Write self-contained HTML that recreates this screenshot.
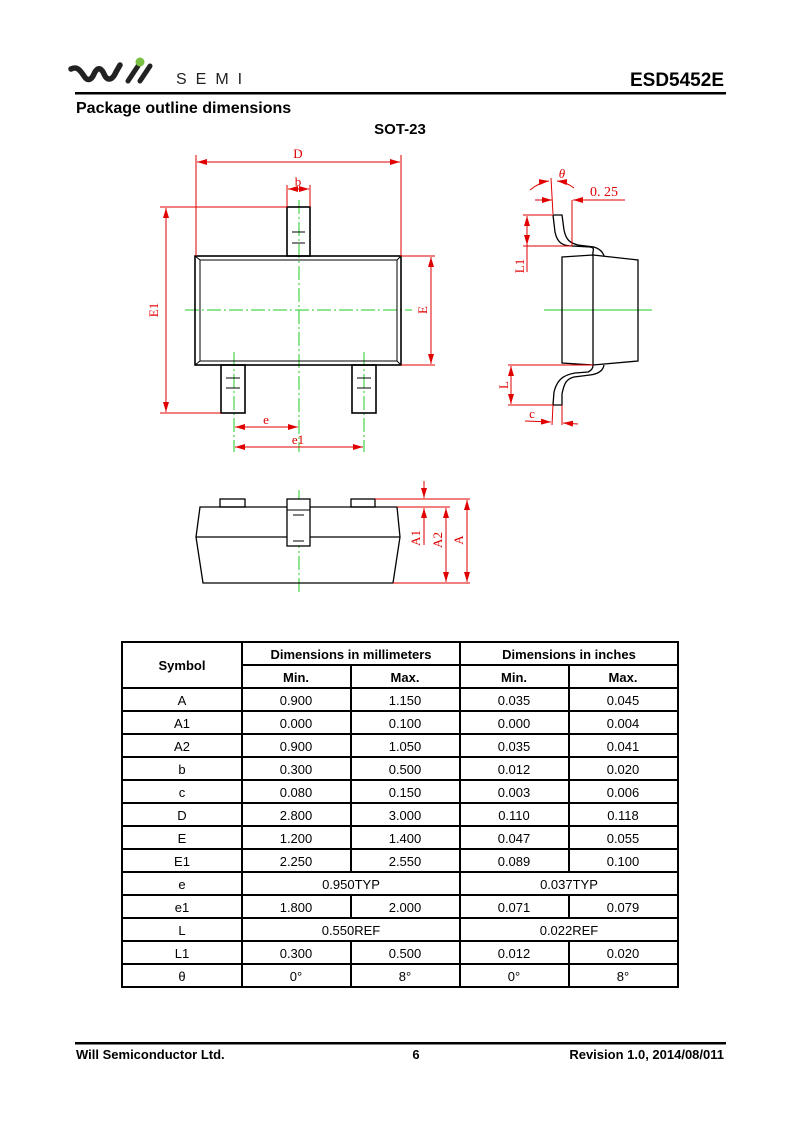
<!DOCTYPE html>
<html><head><meta charset="utf-8"><style>
html,body{margin:0;padding:0;background:#fff;}
svg{display:block;}
text{font-family:"Liberation Sans",Arial,sans-serif;}
.t{font-size:13px;fill:#000;text-anchor:middle;}
.b{font-weight:bold;}
.r{fill:#e00000;font-family:"Liberation Serif",serif;font-size:13px;text-anchor:middle;}
.rl{stroke:#e00000;stroke-width:1;fill:none;}
.k{stroke:#000;stroke-width:1.6;fill:none;}
.g{stroke:#22cc22;stroke-width:1;fill:none;stroke-dasharray:14 3 2 3;}
</style></head><body>
<svg width="800" height="1131" viewBox="0 0 800 1131" xmlns="http://www.w3.org/2000/svg">
<defs>
<marker id="a" viewBox="0 0 10 6" refX="10" refY="3" markerWidth="10" markerHeight="6" orient="auto-start-reverse" markerUnits="userSpaceOnUse"><path d="M0,0 L10,3 L0,6 z" fill="#e00000"/></marker>
</defs>
<!-- header -->
<path d="M71,69 C77,66 80,70 84,76 C87,81 91,81 94,74 C97,67 101,67 104,74 C107,81 112,81 116,72 L120,65" stroke="#222" stroke-width="5.5" fill="none" stroke-linecap="round"/>
<path d="M128,81 L138,66 M140,81 L150,66" stroke="#222" stroke-width="5" fill="none" stroke-linecap="round"/>
<circle cx="140" cy="62" r="4.5" fill="#7ac143"/>
<text x="176" y="84" style="font-size:16px;letter-spacing:9px;fill:#222">SEMI</text>
<text x="724" y="86" class="b" style="font-size:19px;text-anchor:end">ESD5452E</text>
<rect x="75" y="92" width="651" height="2.5" fill="#000"/>
<text x="76" y="113" class="b" style="font-size:16px">Package outline dimensions</text>
<text x="400" y="134" class="b" style="font-size:15px;text-anchor:middle">SOT-23</text>

<!-- top view -->
<line class="g" x1="185" y1="310" x2="412" y2="310"/>
<line class="g" x1="299" y1="200" x2="299" y2="452"/>
<line class="g" x1="234" y1="352" x2="234" y2="452"/>
<line class="g" x1="364" y1="352" x2="364" y2="452"/>
<rect class="k" x="287" y="207" width="23" height="49"/>
<rect class="k" x="195" y="256" width="206" height="109"/>
<rect x="200" y="260" width="197" height="101" fill="none" stroke="#000" stroke-width="1"/>
<path d="M195,256 L200,260 M401,256 L397,260 M195,365 L200,361 M401,365 L397,361" stroke="#000" stroke-width="1"/>
<rect class="k" x="221" y="365" width="24" height="48"/>
<rect class="k" x="352" y="365" width="24" height="48"/>
<path d="M292,232 h13 M292,243 h13 M226,378 h14 M226,388 h14 M357,378 h14 M357,388 h14" stroke="#000" stroke-width="1"/>
<line class="rl" x1="196" y1="155" x2="196" y2="256"/>
<line class="rl" x1="401" y1="155" x2="401" y2="256"/>
<line class="rl" x1="197" y1="162" x2="400" y2="162" marker-start="url(#a)" marker-end="url(#a)"/>
<text class="r" x="298" y="158">D</text>
<line class="rl" x1="287" y1="185" x2="287" y2="207"/>
<line class="rl" x1="310" y1="185" x2="310" y2="207"/>
<line class="rl" x1="288" y1="189" x2="309" y2="189" marker-start="url(#a)" marker-end="url(#a)"/>
<text class="r" x="298" y="186">b</text>
<line class="rl" x1="160" y1="207" x2="287" y2="207"/>
<line class="rl" x1="160" y1="413" x2="221" y2="413"/>
<line class="rl" x1="166" y1="208" x2="166" y2="412" marker-start="url(#a)" marker-end="url(#a)"/>
<text class="r" transform="translate(158,310) rotate(-90)">E1</text>
<line class="rl" x1="401" y1="256" x2="435" y2="256"/>
<line class="rl" x1="401" y1="365" x2="435" y2="365"/>
<line class="rl" x1="431" y1="257" x2="431" y2="364" marker-start="url(#a)" marker-end="url(#a)"/>
<text class="r" transform="translate(427,310) rotate(-90)">E</text>
<line class="rl" x1="235" y1="427" x2="298" y2="427" marker-start="url(#a)" marker-end="url(#a)"/>
<text class="r" x="266" y="424">e</text>
<line class="rl" x1="235" y1="447" x2="363" y2="447" marker-start="url(#a)" marker-end="url(#a)"/>
<text class="r" x="298" y="444">e1</text>

<!-- side view -->
<line x1="544" y1="310" x2="652" y2="310" stroke="#22cc22" stroke-width="1"/>
<path class="k" style="stroke-width:1.3" d="M562,257 L593,255 L638,260 L638,361 L593,365 L562,363 Z M593,255 L593,365"/>
<path class="k" style="stroke-width:1.3" d="M553,215 L562,215 L564,230 C566,240 570,243 578,245 L594,247 C600,249 603,252 604,256 M553,215 L555,232 C557,242 562,246 572,246 L590,247 C596,248 592,251 593,255"/>
<path class="k" style="stroke-width:1.3" d="M604,365 C603,371 598,374 590,375 L574,377 C566,379 564,384 562,394 L562,405 L553,405 L554,392 C557,380 563,375 575,373 L588,372 C592,370 593,368 593,365"/>
<line class="rl" x1="523" y1="215" x2="553" y2="215"/>
<line class="rl" x1="523" y1="246" x2="572" y2="246"/>
<line class="rl" x1="527" y1="216" x2="527" y2="245" marker-start="url(#a)" marker-end="url(#a)"/>
<line class="rl" x1="527" y1="245" x2="527" y2="272"/>
<text class="r" transform="translate(524,266) rotate(-90)">L1</text>
<line class="rl" x1="535" y1="200" x2="552" y2="200" marker-end="url(#a)"/>
<line class="rl" x1="625" y1="200" x2="573" y2="200" marker-end="url(#a)"/>
<line class="rl" x1="572" y1="200" x2="572" y2="246"/>
<text class="r" x="604" y="196" style="font-size:14px">0. 25</text>
<line class="rl" x1="551" y1="178" x2="553" y2="214"/>
<path class="rl" d="M530,190 Q540,182 549,181" marker-end="url(#a)"/>
<path class="rl" d="M574,188 Q566,182 557,181" marker-end="url(#a)"/>
<text class="r" x="562" y="178" style="font-style:italic">θ</text>
<line class="rl" x1="508" y1="365" x2="593" y2="365"/>
<line class="rl" x1="508" y1="405" x2="553" y2="405"/>
<line class="rl" x1="511" y1="366" x2="511" y2="404" marker-start="url(#a)" marker-end="url(#a)"/>
<text class="r" transform="translate(508,385) rotate(-90)">L</text>
<line class="rl" x1="553" y1="405" x2="552" y2="425"/>
<line class="rl" x1="562" y1="405" x2="562" y2="425"/>
<line class="rl" x1="525" y1="421" x2="551" y2="422" marker-end="url(#a)"/>
<line class="rl" x1="578" y1="424" x2="563" y2="423" marker-end="url(#a)"/>
<text class="r" x="532" y="418">c</text>

<!-- bottom view -->
<line class="g" x1="299" y1="490" x2="299" y2="592"/>
<rect class="k" style="stroke-width:1.3" x="220" y="499" width="25" height="8"/>
<rect class="k" style="stroke-width:1.3" x="351" y="499" width="24" height="8"/>
<path class="k" style="stroke-width:1.3" d="M200,507 L397,507 L400,537 L393,583 L203,583 L196,537 Z M196,537 L400,537"/>
<rect x="287" y="499" width="23" height="47" fill="#fff" stroke="#000" stroke-width="1.3"/>
<path d="M287,510 h23 M293,515 h11 M293,541 h11" stroke="#000" stroke-width="1"/>
<line class="rl" x1="375" y1="499" x2="470" y2="499"/>
<line class="rl" x1="397" y1="507" x2="450" y2="507"/>
<line class="rl" x1="393" y1="583" x2="470" y2="583"/>
<line class="rl" x1="424" y1="481" x2="424" y2="498" marker-end="url(#a)"/>
<line class="rl" x1="424" y1="545" x2="424" y2="508" marker-end="url(#a)"/>
<text class="r" transform="translate(420,538) rotate(-90)">A1</text>
<line class="rl" x1="446" y1="508" x2="446" y2="582" marker-start="url(#a)" marker-end="url(#a)"/>
<text class="r" transform="translate(442,540) rotate(-90)">A2</text>
<line class="rl" x1="467" y1="500" x2="467" y2="582" marker-start="url(#a)" marker-end="url(#a)"/>
<text class="r" transform="translate(463,540) rotate(-90)">A</text>

<!-- table -->
<g stroke="#000" stroke-width="2" fill="none">
<rect x="122" y="642" width="556" height="345"/>
<line x1="242" y1="642" x2="242" y2="987"/>
<line x1="460" y1="642" x2="460" y2="987"/>
<line x1="242" y1="665" x2="678" y2="665"/>
<line x1="351" y1="665" x2="351" y2="872"/><line x1="351" y1="895" x2="351" y2="918"/><line x1="351" y1="941" x2="351" y2="987"/>
<line x1="569" y1="665" x2="569" y2="872"/><line x1="569" y1="895" x2="569" y2="918"/><line x1="569" y1="941" x2="569" y2="987"/>
<line x1="122" y1="688" x2="678" y2="688"/><line x1="122" y1="711" x2="678" y2="711"/><line x1="122" y1="734" x2="678" y2="734"/><line x1="122" y1="757" x2="678" y2="757"/><line x1="122" y1="780" x2="678" y2="780"/><line x1="122" y1="803" x2="678" y2="803"/><line x1="122" y1="826" x2="678" y2="826"/><line x1="122" y1="849" x2="678" y2="849"/><line x1="122" y1="872" x2="678" y2="872"/><line x1="122" y1="895" x2="678" y2="895"/><line x1="122" y1="918" x2="678" y2="918"/><line x1="122" y1="941" x2="678" y2="941"/><line x1="122" y1="964" x2="678" y2="964"/>
</g>
<g class="t">
<text class="t b" x="182" y="670">Symbol</text>
<text class="t b" x="351" y="659">Dimensions in millimeters</text>
<text class="t b" x="569" y="659">Dimensions in inches</text>
<text class="t b" x="296" y="682">Min.</text><text class="t b" x="405" y="682">Max.</text><text class="t b" x="514" y="682">Min.</text><text class="t b" x="623" y="682">Max.</text>
</g>
<g>
<text class="t" x="182" y="705">A</text><text class="t" x="296" y="705">0.900</text><text class="t" x="405" y="705">1.150</text><text class="t" x="514" y="705">0.035</text><text class="t" x="623" y="705">0.045</text>
<text class="t" x="182" y="728">A1</text><text class="t" x="296" y="728">0.000</text><text class="t" x="405" y="728">0.100</text><text class="t" x="514" y="728">0.000</text><text class="t" x="623" y="728">0.004</text>
<text class="t" x="182" y="751">A2</text><text class="t" x="296" y="751">0.900</text><text class="t" x="405" y="751">1.050</text><text class="t" x="514" y="751">0.035</text><text class="t" x="623" y="751">0.041</text>
<text class="t" x="182" y="774">b</text><text class="t" x="296" y="774">0.300</text><text class="t" x="405" y="774">0.500</text><text class="t" x="514" y="774">0.012</text><text class="t" x="623" y="774">0.020</text>
<text class="t" x="182" y="797">c</text><text class="t" x="296" y="797">0.080</text><text class="t" x="405" y="797">0.150</text><text class="t" x="514" y="797">0.003</text><text class="t" x="623" y="797">0.006</text>
<text class="t" x="182" y="820">D</text><text class="t" x="296" y="820">2.800</text><text class="t" x="405" y="820">3.000</text><text class="t" x="514" y="820">0.110</text><text class="t" x="623" y="820">0.118</text>
<text class="t" x="182" y="843">E</text><text class="t" x="296" y="843">1.200</text><text class="t" x="405" y="843">1.400</text><text class="t" x="514" y="843">0.047</text><text class="t" x="623" y="843">0.055</text>
<text class="t" x="182" y="866">E1</text><text class="t" x="296" y="866">2.250</text><text class="t" x="405" y="866">2.550</text><text class="t" x="514" y="866">0.089</text><text class="t" x="623" y="866">0.100</text>
<text class="t" x="182" y="889">e</text><text class="t" x="351" y="889">0.950TYP</text><text class="t" x="569" y="889">0.037TYP</text>
<text class="t" x="182" y="912">e1</text><text class="t" x="296" y="912">1.800</text><text class="t" x="405" y="912">2.000</text><text class="t" x="514" y="912">0.071</text><text class="t" x="623" y="912">0.079</text>
<text class="t" x="182" y="935">L</text><text class="t" x="351" y="935">0.550REF</text><text class="t" x="569" y="935">0.022REF</text>
<text class="t" x="182" y="958">L1</text><text class="t" x="296" y="958">0.300</text><text class="t" x="405" y="958">0.500</text><text class="t" x="514" y="958">0.012</text><text class="t" x="623" y="958">0.020</text>
<text class="t" x="182" y="981">θ</text><text class="t" x="296" y="981">0°</text><text class="t" x="405" y="981">8°</text><text class="t" x="514" y="981">0°</text><text class="t" x="623" y="981">8°</text>
</g>

<!-- footer -->
<rect x="75" y="1042" width="651" height="2.5" fill="#000"/>
<text x="76" y="1059" class="b" style="font-size:13px">Will Semiconductor Ltd.</text>
<text x="416" y="1059" class="b" style="font-size:13px;text-anchor:middle">6</text>
<text x="724" y="1059" class="b" style="font-size:13px;text-anchor:end">Revision 1.0, 2014/08/011</text>
</svg>
</body></html>
